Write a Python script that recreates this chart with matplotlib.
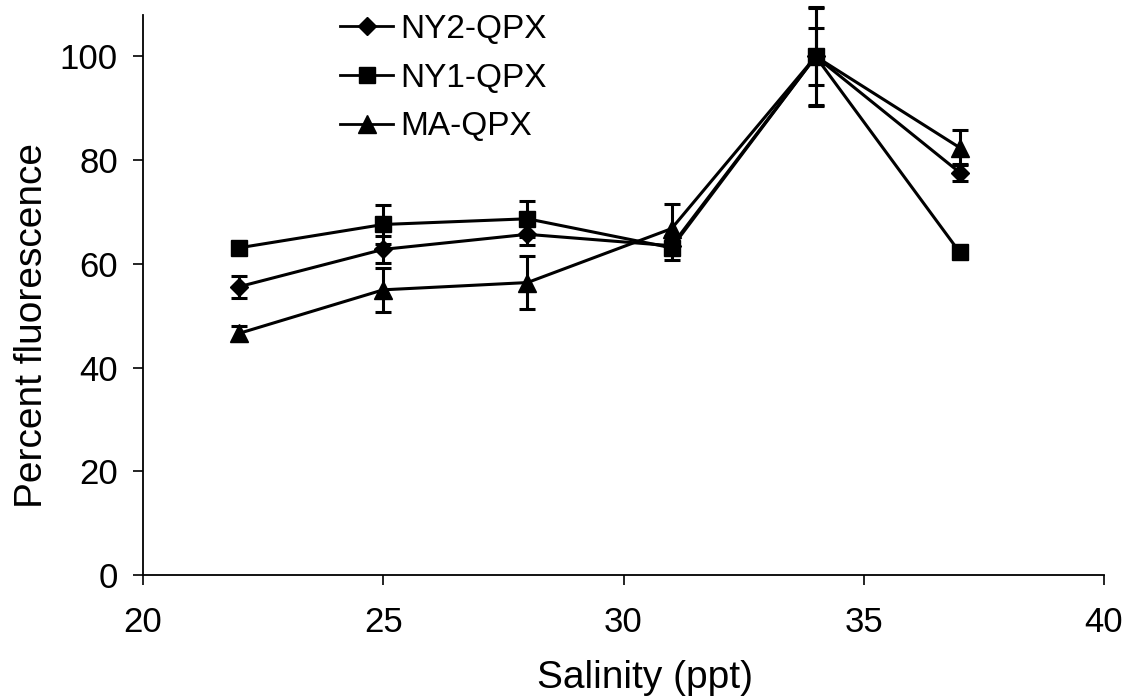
import matplotlib
matplotlib.use("Agg")
import matplotlib.pyplot as plt

salinity = [22, 25, 28, 31, 34, 37]
ny2_vals = [55.6, 62.8, 65.7, 63.5, 100.0, 77.6]
ny2_err = [2.15, 2.6, 2.0, 1.5, 5.5, 1.6]
ny1_vals = [63.1, 67.6, 68.7, 63.1, 100.0, 62.2]
ny1_err = [0.8, 3.7, 3.5, 2.3, 9.3, 0.8]
ma_vals = [46.6, 55.0, 56.4, 66.8, 100.0, 82.4]
ma_err = [1.5, 4.3, 5.1, 4.75, 9.6, 3.35]

labels = ["NY2-QPX", "NY1-QPX", "MA-QPX"]
xticks = [20, 25, 30, 35, 40]
yticks = [0, 20, 40, 60, 80, 100]

plt.rcParams['font.family'] = ['Liberation Sans', 'DejaVu Sans']

W, H = 1135, 699
fig = plt.figure(figsize=(W / 100, H / 100), dpi=100)
ax = fig.add_axes([143 / W, 1 - 575 / H, (1104 - 143) / W, (575 - 15) / H])

series = [
    (ny2_vals, ny2_err, 'D', 8.8, labels[0]),
    (ny1_vals, ny1_err, 's', 12.0, labels[1]),
    (ma_vals, ma_err, '^', 12.5, labels[2]),
]
handles = []
for vals, err, mk, ms, lab in series:
    eb = ax.errorbar(salinity, vals, yerr=err, color='black', lw=2.2,
                     marker=mk, markersize=ms, mfc='black', mec='black',
                     ecolor='black', elinewidth=2.2, capsize=5.6, capthick=2.2,
                     label=lab, clip_on=False)
    handles.append(eb[0])
    for a in eb.lines[1]:
        a.set_clip_on(False)
    for a in eb.lines[2]:
        a.set_clip_on(False)

ax.set_xlim(20, 40)
ax.set_ylim(0, 108)
ax.set_xticks(xticks)
ax.set_yticks(yticks)
for s in ['top', 'right']:
    ax.spines[s].set_visible(False)
for s in ['left', 'bottom']:
    ax.spines[s].set_linewidth(1.3)
ax.tick_params(axis='both', direction='out', length=7, width=1.2, labelsize=25)
ax.tick_params(axis='x', pad=15)
ax.tick_params(axis='y', pad=11)

ax.set_xlabel("Salinity (ppt)", fontsize=28)
ax.set_ylabel("Percent fluorescence", fontsize=28)
ax.xaxis.set_label_coords(0.522, -0.152)
ax.yaxis.set_label_coords(-0.097, 0.446)

leg = ax.legend(handles=handles, labels=labels, loc='upper left',
                bbox_to_anchor=(340 / W, 1 - 14 / H),
                bbox_transform=fig.transFigure, frameon=False, fontsize=24,
                handlelength=1.6, handletextpad=0.2, labelspacing=0.53,
                borderpad=0, borderaxespad=0, numpoints=1)
for h in leg.legend_handles:
    h.set_linewidth(2.0)

fig.savefig("out.png", dpi=100)
